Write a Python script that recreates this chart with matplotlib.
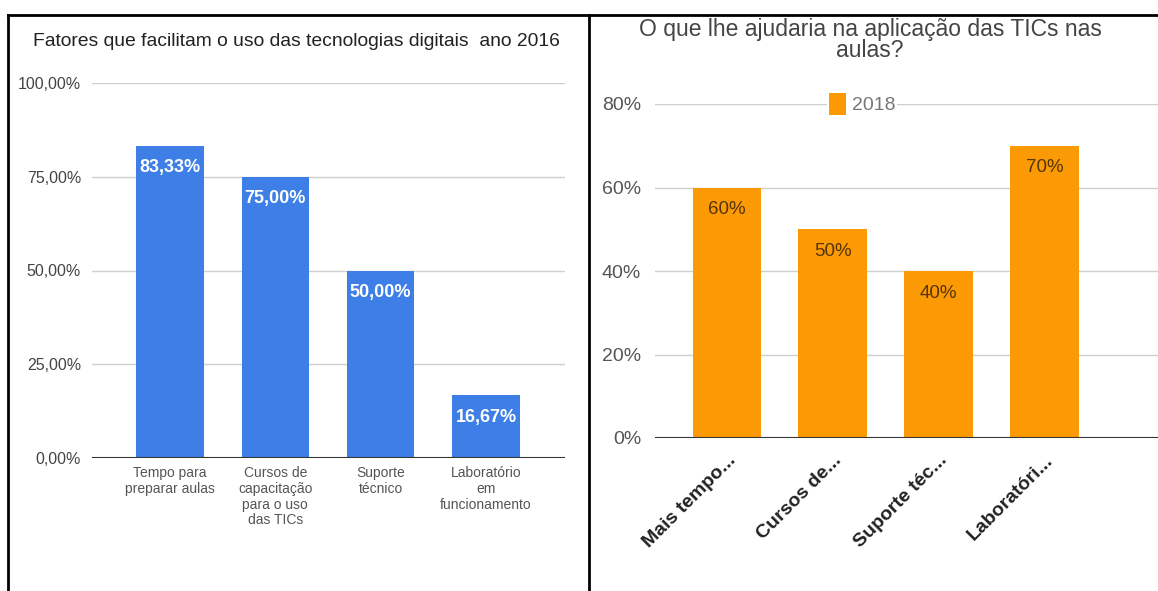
import matplotlib.pyplot as plt
from matplotlib.lines import Line2D

# 2016 survey
fatores = ["Tempo para\npreparar aulas", "Cursos de\ncapacitação\npara o uso\ndas TICs",
           "Suporte\ntécnico", "Laboratório\nem\nfuncionamento"]
pct_2016 = [83.33, 75.00, 50.00, 16.67]
ticks_2016 = [0, 25, 50, 75, 100]

# 2018 survey
ajudas = ["Mais tempo...", "Cursos de...", "Suporte téc...", "Laboratóri..."]
pct_2018 = [60, 50, 40, 70]
ticks_2018 = [0, 20, 40, 60, 80]

W, H = 1158, 591
plt.rcParams["font.family"] = ["Liberation Sans", "DejaVu Sans"]

fig = plt.figure(figsize=(W / 100, H / 100), dpi=100)


def box(x0, x1, y_top, y_bot):
    return [x0 / W, 1 - y_bot / H, (x1 - x0) / W, (y_bot - y_top) / H]


def br(v):
    return f"{v:.2f}".replace(".", ",") + "%"


# ---- left chart
ax1 = fig.add_axes(box(92, 565, 83, 458))
x1 = range(len(pct_2016))
ax1.bar(x1, pct_2016, width=0.64, color="#3d7fe6", zorder=3)
ax1.set_xlim(-0.74, 3.75)
ax1.set_ylim(0, 100)
ax1.set_yticks(ticks_2016)
ax1.set_yticklabels([br(t) for t in ticks_2016], fontsize=11.5, color="#444")
ax1.set_xticks(list(x1))
ax1.set_xticklabels(fatores, fontsize=10, color="#555", linespacing=1.15)
ax1.grid(axis="y", color="#cfcfcf", lw=1, zorder=0)
ax1.tick_params(length=0, pad=8)
ax1.tick_params(axis="x", pad=6)
for s in ax1.spines.values():
    s.set_visible(False)
ax1.axhline(0, color="#333", lw=1.5, zorder=4)
for i, v in enumerate(pct_2016):
    ax1.annotate(br(v), (i, v), xytext=(0, -16), textcoords="offset points",
                 ha="center", va="center", color="white", fontsize=13,
                 fontweight="bold", zorder=5)
fig.text(296 / W, 1 - 41 / H, "Fatores que facilitam o uso das tecnologias digitais  ano 2016",
         ha="center", va="center", fontsize=13.9, color="#222")

# ---- right chart
ax2 = fig.add_axes(box(655, 1158, 104, 438))
x2 = range(len(pct_2018))
ax2.bar(x2, pct_2018, width=0.65, color="#fc9a05", zorder=3, label="2018")
ax2.set_xlim(-0.68, 4.07)
ax2.set_ylim(0, 80)
ax2.set_yticks(ticks_2018)
ax2.set_yticklabels([f"{t}%" for t in ticks_2018], fontsize=14, color="#555")
ax2.set_xticks(list(x2))
ax2.set_xticklabels(ajudas, rotation=45, ha="right", rotation_mode="anchor",
                    fontsize=14, fontweight="bold", color="#222")
ax2.grid(axis="y", color="#cfcfcf", lw=1, zorder=0)
ax2.tick_params(length=0, pad=10)
for s in ax2.spines.values():
    s.set_visible(False)
ax2.axhline(0, color="#333", lw=1.5, zorder=4)
for i, v in enumerate(pct_2018):
    ax2.annotate(f"{v}%", (i, v), xytext=(0, -16), textcoords="offset points",
                 ha="center", va="center", color="#553508", fontsize=13.5, zorder=5)
ax2.legend(loc="center", bbox_to_anchor=(862 / W, 1 - 104 / H), bbox_transform=fig.transFigure,
           frameon=True, edgecolor="none", facecolor="white", framealpha=1,
           fontsize=14, labelcolor="#777", handlelength=0.9, handleheight=1.4,
           handletextpad=0.3, borderpad=0.1)
fig.text(870 / W, 1 - 40 / H, "O que lhe ajudaria na aplicação das TICs nas\naulas?",
         ha="center", va="center", fontsize=16.5, color="#444", linespacing=0.9)

# ---- frame lines
for line in [([8, W], [15, 15]), ([8, 8], [15, H]), ([589, 589], [15, H])]:
    fig.add_artist(Line2D([p / W for p in line[0]], [1 - p / H for p in line[1]],
                          color="black", lw=2))

fig.savefig("out.png", dpi=100)
